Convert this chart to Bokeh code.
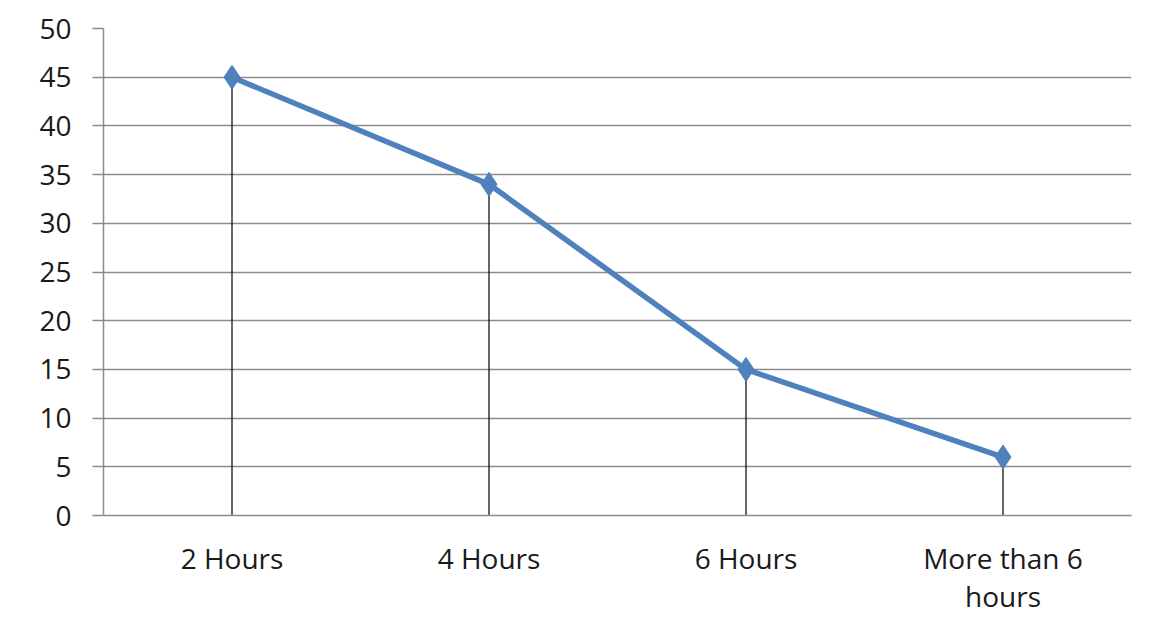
from bokeh.models import ColumnDataSource, FactorRange, Range1d, SingleIntervalTicker
from bokeh.plotting import figure
from bokeh.embed import file_html
from bokeh.resources import INLINE

categories = ["2 Hours", "4 Hours", "6 Hours", "More than 6\nhours"]
values = [45, 34, 15, 6]

source = ColumnDataSource(data=dict(x=categories, y=values, base=[0] * len(values)))

p = figure(x_range=FactorRange(*categories), y_range=Range1d(0, 50),
           width=1140, height=617, output_backend="svg", toolbar_location=None,
           min_border_left=103, min_border_right=9, min_border_top=28, min_border_bottom=102)
p.outline_line_color = None
p.background_fill_color = "white"

# drop lines
p.segment(x0='x', y0='base', x1='x', y1='y', source=source, line_color="black", line_width=1.2)
p.line(x='x', y='y', source=source, line_color="#4F81BD", line_width=5.5)
p.scatter(x='x', y='y', source=source, marker="diamond", size=24, fill_color="#4F81BD", line_color="#4F81BD")

p.yaxis.ticker = SingleIntervalTicker(interval=5)
p.ygrid.grid_line_color = "#8c8c8c"
p.ygrid.grid_line_width = 1.5
p.xgrid.grid_line_color = None

p.yaxis.axis_line_color = "#8c8c8c"
p.yaxis.axis_line_width = 1.5
p.yaxis.major_tick_line_color = "#8c8c8c"
p.yaxis.major_tick_line_width = 1.5
p.yaxis.major_tick_out = 11
p.yaxis.major_tick_in = 0
p.yaxis.minor_tick_line_color = None
p.yaxis.major_label_standoff = 21

p.xaxis.axis_line_color = "#8c8c8c"
p.xaxis.axis_line_width = 1.5
p.xaxis.major_tick_line_color = None
p.xaxis.major_label_standoff = 17
p.xaxis.major_label_text_line_height = 1.0

for ax in (p.xaxis, p.yaxis):
    ax.major_label_text_font = "Open Sans"
    ax.major_label_text_font_size = "28px"
    ax.major_label_text_color = "#1a1a1a"

open("out.html", "w").write(file_html(p, INLINE))
